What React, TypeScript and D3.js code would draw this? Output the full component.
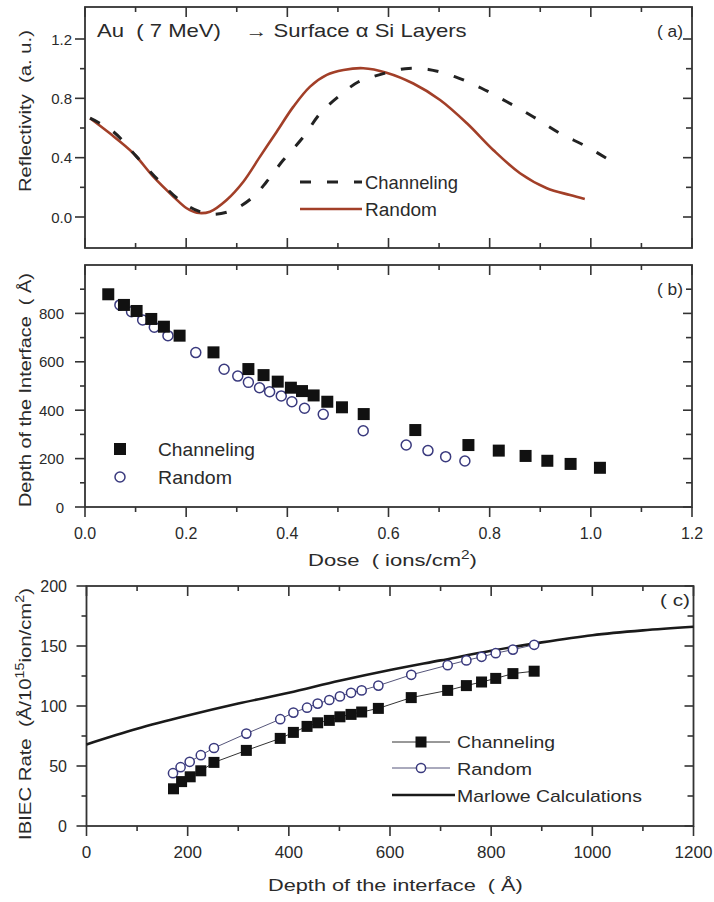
import React from "react";
import * as d3 from "d3";

// ---------- DATA ----------
// Panel (a): reflectivity vs x (same abscissa as dose axis)
const reflChanX = [0.01, 0.056, 0.102, 0.148, 0.191, 0.227, 0.254, 0.293, 0.333, 0.359, 0.392, 0.432, 0.465, 0.504, 0.54, 0.583, 0.633, 0.679, 0.731, 0.784, 0.834, 0.886, 0.939, 0.992, 1.045];
const reflChanY = [0.666, 0.575, 0.407, 0.238, 0.103, 0.036, 0.018, 0.047, 0.137, 0.238, 0.384, 0.541, 0.699, 0.82, 0.91, 0.96, 1.0, 0.995, 0.946, 0.868, 0.777, 0.676, 0.564, 0.474, 0.366];
const reflRandX = [0.01, 0.049, 0.0955, 0.135, 0.175, 0.201, 0.221, 0.247, 0.28, 0.313, 0.346, 0.379, 0.412, 0.445, 0.478, 0.511, 0.55, 0.596, 0.649, 0.702, 0.755, 0.807, 0.86, 0.913, 0.959, 0.988];
const reflRandY = [0.666, 0.564, 0.43, 0.272, 0.137, 0.059, 0.029, 0.036, 0.115, 0.238, 0.407, 0.575, 0.744, 0.879, 0.958, 0.991, 1.003, 0.973, 0.9, 0.789, 0.632, 0.452, 0.295, 0.194, 0.148, 0.121];

// Panel (b): depth of interface vs dose
const doseChan = [0.046, 0.077, 0.102, 0.131, 0.156, 0.187, 0.254, 0.323, 0.353, 0.381, 0.407, 0.429, 0.452, 0.479, 0.508, 0.551, 0.653, 0.758, 0.818, 0.871, 0.914, 0.96, 1.018];
const depthChan = [879, 835, 810, 777, 745, 708, 639, 570, 545, 518, 493, 479, 461, 435, 412, 384, 318, 256, 233, 211, 191, 178, 162];
const doseRand = [0.069, 0.092, 0.114, 0.137, 0.164, 0.219, 0.275, 0.302, 0.323, 0.345, 0.365, 0.388, 0.409, 0.434, 0.471, 0.55, 0.635, 0.678, 0.713, 0.751];
const depthRand = [835, 807, 773, 743, 708, 638, 569, 541, 515, 493, 476, 459, 435, 408, 383, 315, 256, 233, 208, 190];

// Panel (c): IBIEC rate vs depth
const cDepthChan = [172, 188, 205, 226, 252, 316, 383, 409, 436, 457, 480, 501, 523, 544, 577, 642, 714, 751, 781, 809, 843, 885];
const cRateChan = [31, 37, 41, 46, 53, 63, 73, 78, 83, 86, 88, 91, 93, 95, 98, 107, 113, 117, 120, 123, 127, 129];
const cDepthRand = [171, 186, 204, 226, 252, 316, 383, 409, 436, 457, 480, 501, 523, 544, 577, 642, 714, 751, 781, 809, 843, 885];
const cRateRand = [44, 49, 53.5, 59, 65, 77, 89, 94.5, 98.6, 102, 105, 108, 111, 113, 117, 126, 134, 138, 141, 144, 147, 151];
const marloweDepth = [0, 100, 200, 300, 400, 500, 600, 700, 800, 900, 1000, 1100, 1200];
const marloweRate = [68, 81, 92, 102, 111, 121, 130, 138, 146, 153, 159, 163, 166];

// tick labels
const reflLabels = [0, 0.4, 0.8, 1.2];
const depthLabels = [0, 200, 400, 600, 800];
const doseLabels = [0, 0.2, 0.4, 0.6, 0.8, 1.0, 1.2];
const rateLabels = [0, 50, 100, 150, 200];
const cDepthLabels = [0, 200, 400, 600, 800, 1000, 1200];

// ---------- STYLE ----------
const FONT = "'Liberation Sans', Arial, Helvetica, sans-serif";
const TXT = "#2a2a2a";
const AX = "#333";
const RED = "#a23f28";
const NAVY = "#3a3a7e";

// ---------- SCALES ----------
const L = 85, R = 692;
const xDose = d3.scaleLinear().domain([0, 1.2]).range([L, R]);
const yRefl = d3.scaleLinear().domain([0, 1.2]).range([217, 39]);
const A_TOP = 7, A_BOT = 248;
const yDepth = d3.scaleLinear().domain([0, 1000]).range([507, 265]);
const B_TOP = 265, B_BOT = 507;
const CL = 86.5, CR = 693.5;
const xDepth = d3.scaleLinear().domain([0, 1200]).range([CL, CR]);
const yRate = d3.scaleLinear().domain([0, 200]).range([826, 586]);
const C_TOP = 586, C_BOT = 826;

let _ctx: CanvasRenderingContext2D | null = null;
function measure(str: string, size: number) {
  if (typeof document === "undefined") return str.length * size * 0.55;
  if (!_ctx) _ctx = document.createElement("canvas").getContext("2d");
  if (!_ctx) return str.length * size * 0.55;
  _ctx.font = `${size}px "Liberation Sans", Arial, sans-serif`;
  return _ctx.measureText(str).width;
}

// label made of segments ([text, isSuperscript]); stretched uniformly in x to width w
function ML(props: any) {
  const { x, y, w, size = 17, segs } = props;
  const supSize = size * 0.7;
  const rise = size * 0.42;
  const nat = segs.reduce((s: number, g: [string, boolean]) => s + measure(g[0], g[1] ? supSize : size), 0);
  const sx = w && nat > 0 ? w / nat : 1;
  let prevSup = false;
  return (
    <text transform={`translate(${x},${y}) scale(${sx.toFixed(4)},1)`} fontSize={size}
      fontFamily={FONT} fill={TXT} style={{ whiteSpace: "pre" }}>
      {segs.map((g: [string, boolean], i: number) => {
        const dy = g[1] && !prevSup ? -rise : !g[1] && prevSup ? rise : 0;
        prevSup = g[1];
        return (
          <tspan key={i} dy={dy} fontSize={g[1] ? supSize : size}>
            {g[0]}
          </tspan>
        );
      })}
    </text>
  );
}

function ST(props: any) {
  const { x, y, w, size = 17, children } = props;
  return <ML x={x} y={y} w={w} size={size} segs={[[String(children), false]]} />;
}

function zip(xs: number[], ys: number[]) {
  return xs.map((x, i) => [x, ys[i]] as [number, number]);
}

function Frame({ x0, x1, y0, y1 }: any) {
  return <rect x={x0} y={y0} width={x1 - x0} height={y1 - y0} fill="none" stroke={AX} strokeWidth={1.8} />;
}

function XTicks({ scale, y0, y1, values, isMajor, labels, labelY, fmt, size }: any) {
  return (
    <g>
      {values.map((v: number, i: number) => {
        const x = scale(v);
        const len = isMajor(v) ? 10 : 5;
        return (
          <g key={i}>
            <line x1={x} x2={x} y1={y1} y2={y1 + len} stroke={AX} strokeWidth={1.6} />
            <line x1={x} x2={x} y1={y0} y2={y0 + len} stroke={AX} strokeWidth={1.6} />
          </g>
        );
      })}
      {labels &&
        labels.map((v: number, i: number) => (
          <text key={"l" + i} x={scale(v)} y={labelY} fontSize={size} fontFamily={FONT} fill={TXT} textAnchor="middle">
            {fmt(v)}
          </text>
        ))}
    </g>
  );
}

function XTicksInner({ scale, y0, y1, values, isMajor }: any) {
  return (
    <g>
      {values.map((v: number, i: number) => {
        const x = scale(v);
        const len = isMajor(v) ? 10 : 5;
        return (
          <g key={i}>
            <line x1={x} x2={x} y1={y1} y2={y1 - len} stroke={AX} strokeWidth={1.6} />
            <line x1={x} x2={x} y1={y0} y2={y0 + len} stroke={AX} strokeWidth={1.6} />
          </g>
        );
      })}
    </g>
  );
}

function YTicks({ scale, x0, x1, values, isMajor, labels, labelX, fmt, size }: any) {
  return (
    <g>
      {values.map((v: number, i: number) => {
        const y = scale(v);
        const maj = isMajor(v);
        return (
          <g key={i}>
            <line x1={x0} x2={x0 - (maj ? 10 : 5)} y1={y} y2={y} stroke={AX} strokeWidth={1.6} />
            <line x1={x1} x2={x1 - (maj ? 9 : 6)} y1={y} y2={y} stroke={AX} strokeWidth={1.6} />
          </g>
        );
      })}
      {labels.map((v: number, i: number) => (
        <text key={"l" + i} x={labelX} y={scale(v) + 5.5} fontSize={size} fontFamily={FONT} fill={TXT} textAnchor="end">
          {fmt(v)}
        </text>
      ))}
    </g>
  );
}

function Square({ x, y, s }: any) {
  return <rect x={x - s / 2} y={y - s / 2} width={s} height={s} fill="#111" />;
}
function Circ({ x, y, r }: any) {
  return <circle cx={x} cy={y} r={r} fill="#fff" stroke={NAVY} strokeWidth={1.5} />;
}

export default function App() {
  const near = (a: number, b: number) => Math.abs(a - b) < 1e-6;
  const tenths = d3.range(0, 13).map((i) => i / 10);

  const lineA = d3
    .line<[number, number]>()
    .x((d) => xDose(d[0]))
    .y((d) => yRefl(d[1]))
    .curve(d3.curveCatmullRom.alpha(0.5));
  const chanPath = lineA(zip(reflChanX, reflChanY)) || "";
  const randPath = lineA(zip(reflRandX, reflRandY)) || "";

  const marlPath =
    d3
      .line<[number, number]>()
      .x((d) => xDepth(d[0]))
      .y((d) => yRate(d[1]))
      .curve(d3.curveMonotoneX)(zip(marloweDepth, marloweRate)) || "";
  const lineC2 = d3
    .line<[number, number]>()
    .x((d) => xDepth(d[0]))
    .y((d) => yRate(d[1]));
  const cChanPath = lineC2(zip(cDepthChan, cRateChan)) || "";
  const cRandPath = lineC2(zip(cDepthRand, cRateRand)) || "";

  const reflTicks = yRefl.ticks(6);
  const depthTicks = d3.range(0, 1000, 100);
  const rateTicks = d3.range(0, 201, 25);
  const cDepthTicks = d3.range(0, 1201, 100);

  return (
    <svg width={714} height={902} style={{ position: "absolute", left: 0, top: 0, background: "#fff" }}>
      <rect x={0} y={0} width={714} height={902} fill="#fff" />

      {/* ================= Panel (a) ================= */}
      <XTicksInner scale={xDose} y0={A_TOP} y1={A_BOT} values={tenths}
        isMajor={(v: number) => Math.round(v * 10) % 2 === 0} />
      <YTicks scale={yRefl} x0={L} x1={R} values={reflTicks}
        isMajor={(v: number) => reflLabels.some((l) => near(l, v))}
        labels={reflLabels} labelX={72} size={15} fmt={(v: number) => v.toFixed(1)} />
      <path d={randPath} fill="none" stroke={RED} strokeWidth={2.6} />
      <path d={chanPath} fill="none" stroke="#222" strokeWidth={3} strokeDasharray="11,16" />
      <Frame x0={L} x1={R} y0={A_TOP} y1={A_BOT} />

      <ST x={97} y={37} w={370} size={17.5}>{"Au  ( 7 MeV)    → Surface α Si Layers"}</ST>
      <ST x={657} y={37} w={26}>( a)</ST>

      <line x1={300} x2={362} y1={182} y2={182} stroke="#222" strokeWidth={3} strokeDasharray="11,16" />
      <ST x={365} y={189} w={93} size={18}>Channeling</ST>
      <line x1={300} x2={362} y1={209} y2={209} stroke={RED} strokeWidth={2.6} />
      <ST x={365} y={216} w={72} size={18}>Random</ST>

      <g transform="translate(31,192) rotate(-90)">
        <ST x={0} y={0} w={162}>{"Reflectivity  (a. u.)"}</ST>
      </g>

      {/* ================= Panel (b) ================= */}
      <XTicks scale={xDose} y0={B_TOP} y1={B_BOT} values={tenths}
        isMajor={(v: number) => Math.round(v * 10) % 2 === 0}
        labels={doseLabels} labelY={539} size={16} fmt={(v: number) => v.toFixed(1)} />
      <YTicks scale={yDepth} x0={L} x1={R} values={depthTicks}
        isMajor={(v: number) => v % 200 === 0}
        labels={depthLabels} labelX={64} size={15} fmt={(v: number) => String(v)} />
      <Frame x0={L} x1={R} y0={B_TOP} y1={B_BOT} />
      {doseRand.map((d, i) => (
        <Circ key={"br" + i} x={xDose(d)} y={yDepth(depthRand[i])} r={5} />
      ))}
      {doseChan.map((d, i) => (
        <Square key={"bc" + i} x={xDose(d)} y={yDepth(depthChan[i])} s={12} />
      ))}
      <ST x={657} y={295} w={26}>( b)</ST>

      <Square x={120} y={449} s={12} />
      <ST x={158} y={456} w={97} size={19}>Channeling</ST>
      <Circ x={120} y={477} r={5} />
      <ST x={158} y={484} w={74} size={19}>Random</ST>

      <g transform="translate(31,507) rotate(-90)">
        <ST x={0} y={0} w={234}>{"Depth of the Interface  ( Å)"}</ST>
      </g>

      <ML x={308} y={566} w={169} size={17}
        segs={[["Dose  ( ions/cm", false], ["2", true], [")", false]]} />

      {/* ================= Panel (c) ================= */}
      <XTicks scale={xDepth} y0={C_TOP} y1={C_BOT} values={cDepthTicks}
        isMajor={(v: number) => v % 200 === 0}
        labels={cDepthLabels} labelY={858} size={17} fmt={(v: number) => String(v)} />
      <YTicks scale={yRate} x0={CL} x1={CR} values={rateTicks}
        isMajor={(v: number) => v % 50 === 0}
        labels={rateLabels} labelX={67} size={16} fmt={(v: number) => String(v)} />
      <Frame x0={CL} x1={CR} y0={C_TOP} y1={C_BOT} />
      <path d={marlPath} fill="none" stroke="#1a1a1a" strokeWidth={2.6} />
      <path d={cRandPath} fill="none" stroke="#55557a" strokeWidth={1} />
      <path d={cChanPath} fill="none" stroke="#333" strokeWidth={1} />
      {cDepthRand.map((d, i) => (
        <Circ key={"cr" + i} x={xDepth(d)} y={yRate(cRateRand[i])} r={4.6} />
      ))}
      {cDepthChan.map((d, i) => (
        <Square key={"cc" + i} x={xDepth(d)} y={yRate(cRateChan[i])} s={11} />
      ))}
      <ST x={660} y={606} w={30}>( c)</ST>

      <line x1={392} x2={450} y1={742} y2={742} stroke="#333" strokeWidth={1} />
      <Square x={421} y={742} s={11} />
      <ST x={457} y={748} w={98}>Channeling</ST>
      <line x1={392} x2={450} y1={768} y2={768} stroke="#55557a" strokeWidth={1} />
      <Circ x={421} y={768} r={4.6} />
      <ST x={457} y={775} w={75}>Random</ST>
      <line x1={392} x2={455} y1={795} y2={795} stroke="#1a1a1a" strokeWidth={2.6} />
      <ST x={457} y={802} w={185}>Marlowe Calculations</ST>

      <g transform="translate(31,840) rotate(-90)">
        <ML x={0} y={0} w={252} size={17}
          segs={[["IBIEC Rate  (Å/10", false], ["15", true], ["ion/cm", false], ["2", true], [")", false]]} />
      </g>

      <ST x={268} y={891} w={255}>{"Depth of the interface  ( Å)"}</ST>
    </svg>
  );
}
